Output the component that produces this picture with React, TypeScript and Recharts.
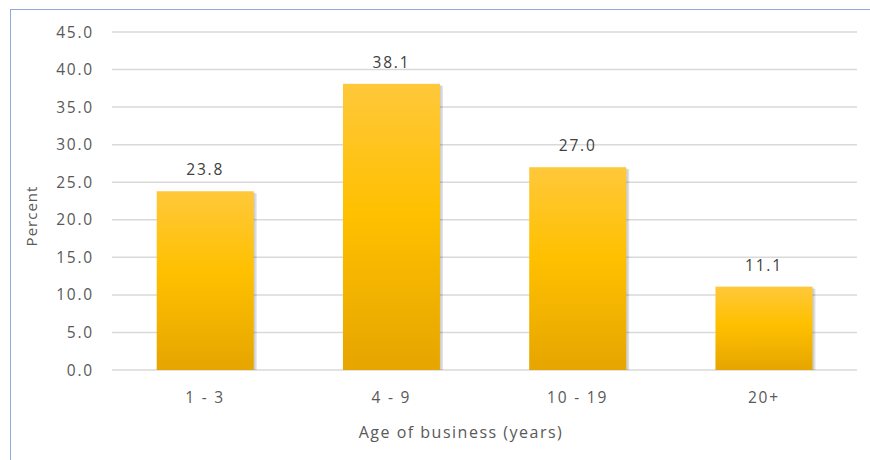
import { BarChart, Bar, XAxis, YAxis, CartesianGrid, LabelList } from 'recharts';

const categories = ['1 - 3', '4 - 9', '10 - 19', '20+'];
const percents = [23.8, 38.1, 27.0, 11.1];
const yTicks = [0, 5, 10, 15, 20, 25, 30, 35, 40, 45];

const data = categories.map((c, i) => ({ age: c, pct: percents[i] }));

const FONT = '"Open Sans", sans-serif';
const GRAY = '#595959';
const txt = { fontSize: 15.5, fontFamily: FONT, letterSpacing: 1.8 };

// bar with a soft shadow to the right, like the Excel original
const ShadowBar = (props: any) => {
  const { x, y, width, height } = props;
  if (!height || height <= 0) return null;
  return (
    <g>
      <rect x={x + 3} y={y + 2} width={width} height={height - 2} fill="#000" opacity={0.12} />
      <rect x={x + 1.5} y={y + 1} width={width} height={height - 1} fill="#000" opacity={0.08} />
      <rect x={x} y={y} width={width} height={height} fill="url(#goldGrad)" />
    </g>
  );
};

export default function App() {
  return (
    <div style={{ position: 'absolute', left: 0, top: 0, width: 870, height: 460, background: '#fff' }}>
      <div
        style={{
          position: 'absolute',
          left: 10,
          top: 9,
          width: 860,
          height: 451,
          borderLeft: '1px solid #8eaad8',
          borderTop: '1px solid #8eaad8',
        }}
      />
      <div style={{ position: 'absolute', left: 0, top: 0 }}>
        <BarChart
          width={870}
          height={460}
          data={data}
          margin={{ top: 32, right: 13, left: 0, bottom: 0 }}
          barCategoryGap="24%"
        >
          <defs>
            <linearGradient id="goldGrad" x1="0" y1="0" x2="0" y2="1">
              <stop offset="0%" stopColor="#ffc83a" />
              <stop offset="45%" stopColor="#ffc000" />
              <stop offset="100%" stopColor="#e6a500" />
            </linearGradient>
          </defs>
          <CartesianGrid vertical={false} stroke="#d9d9d9" strokeWidth={1.5} />
          <XAxis
            dataKey="age"
            height={90}
            axisLine={false}
            tickLine={false}
            tickSize={0}
            tickMargin={22}
            tick={{ fill: GRAY, ...txt }}
            label={{
              content: ({ viewBox }: any) => (
                <text
                  x={461}
                  y={viewBox.y + 68}
                  textAnchor="middle"
                  fill={GRAY}
                  style={{ fontSize: 16, fontFamily: FONT, letterSpacing: 1.5 }}
                >
                  Age of business (years)
                </text>
              ),
            }}
          />
          <YAxis
            domain={[0, 45]}
            ticks={yTicks}
            width={112}
            axisLine={false}
            tickLine={false}
            tickSize={0}
            tickMargin={18}
            tickFormatter={(v: number) => v.toFixed(1)}
            tick={{ fill: GRAY, ...txt }}
            label={{
              content: () => (
                <text
                  x={37}
                  y={216}
                  transform="rotate(-90, 37, 216)"
                  textAnchor="middle"
                  fill={GRAY}
                  style={{ fontSize: 15, fontFamily: FONT, letterSpacing: 1 }}
                >
                  Percent
                </text>
              ),
            }}
          />
          <Bar dataKey="pct" shape={ShadowBar} isAnimationActive={false}>
            <LabelList
              dataKey="pct"
              position="top"
              offset={16}
              formatter={(v: number) => v.toFixed(1)}
              style={{ fill: '#404040', ...txt }}
            />
          </Bar>
        </BarChart>
      </div>
    </div>
  );
}
